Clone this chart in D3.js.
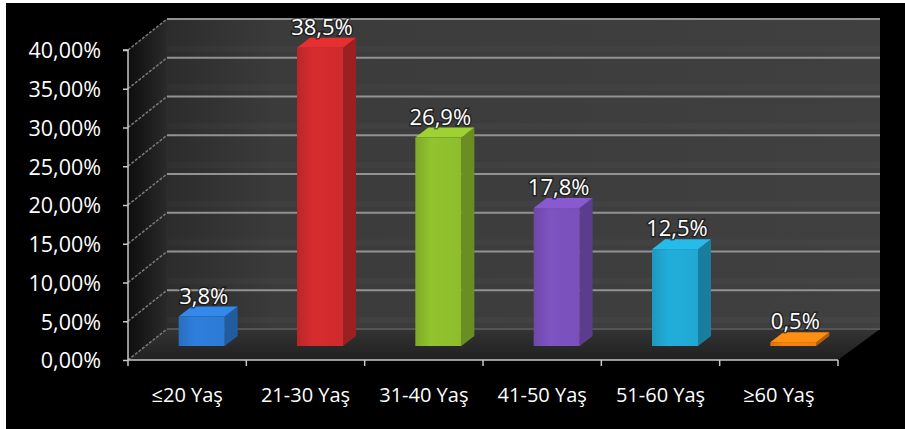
<!DOCTYPE html>
<html><head><meta charset="utf-8">
<script src="https://cdn.jsdelivr.net/npm/d3@7"></script>
<style>
html,body{margin:0;padding:0;background:#fff;}
svg{display:block;}
text{font-family:"Open Sans",sans-serif;}
</style></head><body>
<svg id="c" width="905" height="429"></svg>
<script>
const categories = ["≤20 Yaş","21-30 Yaş","31-40 Yaş","41-50 Yaş","51-60 Yaş","≥60 Yaş"];
const values = [3.8, 38.5, 26.9, 17.8, 12.5, 0.5];
const valueLabels = ["3,8%","38,5%","26,9%","17,8%","12,5%","0,5%"];
const yTicks = [0,5,10,15,20,25,30,35,40];
const barColors = ["#2c7bd4","#cf2a2c","#8dbd2c","#7a50bb","#21a8d2","#f0800f"];

const svg = d3.select("#c");
const W = 905, H = 429;
svg.append("rect").attr("x",0).attr("y",0).attr("width",W).attr("height",H).attr("fill","#fff");
svg.append("rect").attr("x",6).attr("y",3).attr("width",W-6).attr("height",H-3).attr("fill","#000");

const plotL = 128, plotR = 838, yBase = 360, yTop = 50;
const depthX = 39, depthY = 31;
const x = d3.scaleBand().domain(categories).range([plotL, plotR]).padding(0);
const y = d3.scaleLinear().domain([0,40]).range([yBase, yTop]);
const locale = d3.formatLocale({decimal:",", thousands:".", grouping:[3], currency:["","₺"]});
const fmt = locale.format(".2f");

const defs = svg.append("defs");
const wg = defs.append("linearGradient").attr("id","wall").attr("x1",0).attr("y1",0).attr("x2",1).attr("y2",0);
wg.append("stop").attr("offset","0%").attr("stop-color","#2c2c2c");
wg.append("stop").attr("offset","15%").attr("stop-color","#3b3b3b");
wg.append("stop").attr("offset","100%").attr("stop-color","#404040");
const sg = defs.append("linearGradient").attr("id","side").attr("x1",0).attr("y1",0).attr("x2",1).attr("y2",0);
sg.append("stop").attr("offset","0%").attr("stop-color","#0e0e0e");
sg.append("stop").attr("offset","100%").attr("stop-color","#2a2a2a");
const fg = defs.append("linearGradient").attr("id","floor").attr("x1",0).attr("y1",1).attr("x2",0).attr("y2",0);
fg.append("stop").attr("offset","0%").attr("stop-color","#202020");
fg.append("stop").attr("offset","100%").attr("stop-color","#343434");

const backL = plotL + depthX, backR = plotR + 42;
svg.append("rect").attr("x",backL).attr("y",y(40)-depthY).attr("width",backR-backL)
  .attr("height",y(0)-y(40)).attr("fill","url(#wall)");
svg.append("path").attr("d",`M${plotL},${y(40)}L${backL},${y(40)-depthY}L${backL},${y(0)-depthY}L${plotL},${y(0)}Z`)
  .attr("fill","url(#side)");
svg.append("path").attr("d",`M${plotL},${y(0)}L${backL},${y(0)-depthY}L${backR},${y(0)-depthY}L${plotR},${y(0)}Z`)
  .attr("fill","url(#floor)");

const bands = svg.append("g");
yTicks.slice(0,-1).forEach(t=>{
  bands.append("rect").attr("x",backL).attr("y",y(t)-depthY-12).attr("width",backR-backL).attr("height",6)
   .attr("fill","#fff").attr("opacity",0.025);
});
const grid = svg.append("g");
yTicks.forEach(t=>{
  grid.append("line").attr("x1",backL).attr("x2",backR).attr("y1",y(t)-depthY).attr("y2",y(t)-depthY)
    .attr("stroke", t===0 ? "#555" : "#929292").attr("stroke-width",2);
  grid.append("line").attr("x1",plotL).attr("x2",backL).attr("y1",y(t)).attr("y2",y(t)-depthY)
    .attr("stroke","#7a7a7a").attr("stroke-width",1.5).attr("stroke-dasharray","3,1.5");
});

const d0x = 17.5, d0y = 14, sideX = 13, sideY = 10, bw = 46;
const bars = svg.append("g");
categories.forEach((c,i)=>{
  const col = d3.color(barColors[i]);
  const cx = x(c) + x.bandwidth()/2;
  const fx = cx - 26 + d0x;
  const fTop = y(values[i]) - d0y, fBot = y(0) - d0y;
  const gid = "bg"+i;
  const g = defs.append("linearGradient").attr("id",gid).attr("x1",0).attr("y1",0).attr("x2",1).attr("y2",0);
  g.append("stop").attr("offset","0%").attr("stop-color",col.darker(0.3));
  g.append("stop").attr("offset","35%").attr("stop-color",col.brighter(0.1));
  g.append("stop").attr("offset","100%").attr("stop-color",col);
  bars.append("path").attr("d",`M${fx+bw},${fTop}L${fx+bw+sideX},${fTop-sideY}L${fx+bw+sideX},${fBot-sideY}L${fx+bw},${fBot}Z`)
    .attr("fill",col.darker(0.8));
  bars.append("path").attr("d",`M${fx},${fTop}L${fx+sideX},${fTop-sideY}L${fx+bw+sideX},${fTop-sideY}L${fx+bw},${fTop}Z`)
    .attr("fill",col.brighter(0.3));
  bars.append("rect").attr("x",fx).attr("y",fTop).attr("width",bw).attr("height",fBot-fTop)
    .attr("fill",`url(#${gid})`);
  bars.append("text").attr("x",fx+bw/2+2).attr("y",fTop-13).attr("text-anchor","middle")
    .attr("fill","#fff").attr("font-size",22).attr("stroke","rgba(0,0,0,0.45)").attr("stroke-width",3)
    .attr("paint-order","stroke").text(valueLabels[i]);
});

const yAxis = d3.axisLeft(y).tickValues(yTicks).tickFormat(d=>fmt(d)+"%").tickSize(5).tickPadding(22);
const ya = svg.append("g").attr("transform",`translate(${plotL},0)`).call(yAxis);
ya.select(".domain").attr("stroke","#c8c8c8").attr("stroke-width",1.5).attr("d",`M-5,${y(40)}H0V${y(0)}`);
ya.selectAll(".tick line").attr("stroke","#c8c8c8").attr("stroke-width",1.5);
ya.selectAll(".tick text").attr("fill","#fff").attr("font-size",21.5).attr("font-family","Open Sans").attr("dy","0.36em");

const xAxis = d3.axisBottom(x).tickSize(0).tickPadding(28);
const xa = svg.append("g").attr("transform",`translate(0,${y(0)})`).call(xAxis);
xa.select(".domain").attr("stroke","#c8c8c8").attr("stroke-width",1.5).attr("d",`M${plotL},0H${plotR}`);
xa.selectAll(".tick text").attr("fill","#fff").attr("font-size",20).attr("font-family","Open Sans");
const edges = d3.range(categories.length+1).map(i => i===categories.length ? plotR : x(categories[i]));
xa.selectAll(".edge").data(edges).join("line").attr("class","edge")
  .attr("x1",d=>d).attr("x2",d=>d).attr("y1",0).attr("y2",6).attr("stroke","#c8c8c8").attr("stroke-width",1.5);
</script>
</body></html>
